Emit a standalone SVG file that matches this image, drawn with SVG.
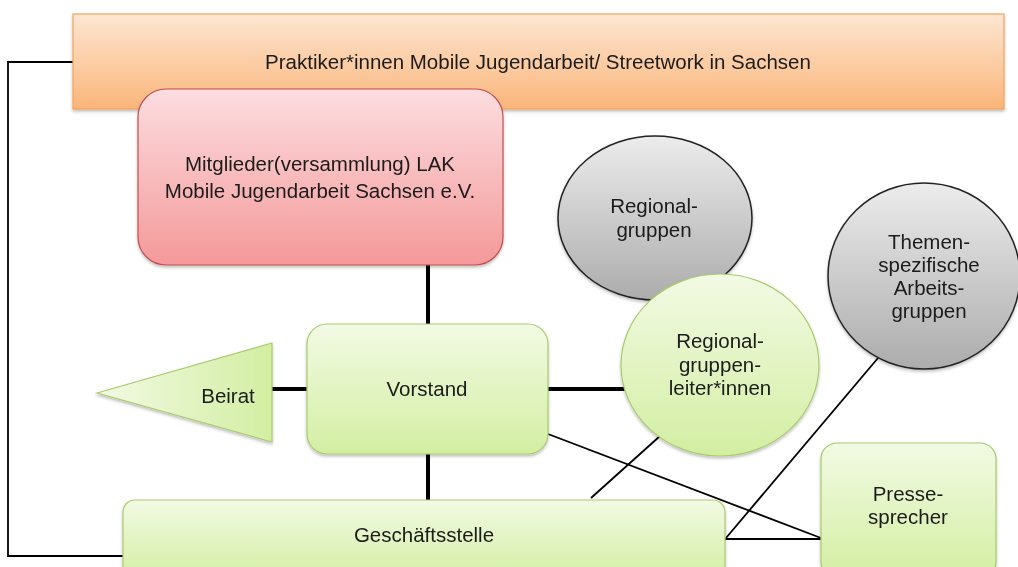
<svg xmlns="http://www.w3.org/2000/svg" width="1018" height="567" viewBox="0 0 1018 567">
<defs>
<linearGradient id="gOr" x1="0" y1="0" x2="0" y2="1"><stop offset="0" stop-color="#fde6d2"/><stop offset="1" stop-color="#fab57a"/></linearGradient>
<linearGradient id="gRd" x1="0" y1="0" x2="0" y2="1"><stop offset="0" stop-color="#fcdde0"/><stop offset="1" stop-color="#f49999"/></linearGradient>
<linearGradient id="gGr" x1="0" y1="0" x2="0" y2="1"><stop offset="0" stop-color="#f2fae4"/><stop offset="1" stop-color="#d3eea2"/></linearGradient>
<linearGradient id="gGrH" x1="0" y1="0" x2="1" y2="0"><stop offset="0" stop-color="#f2fae4"/><stop offset="1" stop-color="#d3eea2"/></linearGradient>
<linearGradient id="gGy" x1="0" y1="0" x2="0" y2="1"><stop offset="0" stop-color="#ececec"/><stop offset="1" stop-color="#acacac"/></linearGradient>
<filter id="sh" x="-10%" y="-10%" width="120%" height="130%"><feDropShadow dx="0" dy="2" stdDeviation="1.5" flood-color="#000" flood-opacity="0.25"/></filter>
</defs>
<style>
text{font-family:"Liberation Sans",Arial,sans-serif;font-size:20.5px;fill:#1a1a1a;text-anchor:middle}
.or{fill:url(#gOr);stroke:#f5a35c;stroke-width:1.2}
.rd{fill:url(#gRd);stroke:#c0504d;stroke-width:1.2}
.gr{fill:url(#gGr);stroke:#a9cb6c;stroke-width:1.2}
.gy{fill:url(#gGy);stroke:#222;stroke-width:1.5}
.thin{stroke:#000;stroke-width:1.8;fill:none}
.thick{stroke:#000;stroke-width:4;fill:none}
</style>
<rect width="1018" height="567" fill="#fff"/>
<g id="connectors">
<polyline class="thin" points="74,62 8,62 8,556 124,556"/>
<line class="thick" x1="428" y1="264" x2="428" y2="325"/>
<line class="thick" x1="428" y1="453" x2="428" y2="501"/>
<line class="thick" x1="271" y1="389" x2="308" y2="389"/>
<line class="thick" x1="547" y1="389" x2="627" y2="389"/>
<line class="thin" x1="548" y1="434" x2="821" y2="538"/>
<line class="thin" x1="591" y1="498" x2="660" y2="436"/>
<line class="thin" x1="726" y1="538" x2="878" y2="358"/>
<line class="thin" x1="725" y1="539" x2="821" y2="539"/>
</g>
<g id="praktiker" filter="url(#sh)">
<rect class="or" x="73" y="14" width="931" height="95"/>
<text x="538" y="69">Praktiker*innen Mobile Jugendarbeit/ Streetwork in Sachsen</text>
</g>
<g id="mitglieder" filter="url(#sh)">
<rect class="rd" x="138" y="89" width="365" height="176" rx="28"/>
<text x="320" y="171">Mitglieder(versammlung) LAK</text>
<text x="320" y="198">Mobile Jugendarbeit Sachsen e.V.</text>
</g>
<g id="regionalgruppen" filter="url(#sh)">
<ellipse class="gy" cx="655" cy="218" rx="97" ry="82"/>
<text x="654" y="213">Regional-</text>
<text x="654" y="237">gruppen</text>
</g>
<g id="leiter" filter="url(#sh)">
<ellipse class="gr" cx="720" cy="365" rx="99" ry="91"/>
<text x="720" y="348">Regional-</text>
<text x="720" y="372">gruppen-</text>
<text x="720" y="395">leiter*innen</text>
</g>
<g id="themen" filter="url(#sh)">
<ellipse class="gy" cx="924" cy="276" rx="96" ry="93"/>
<text x="929" y="249">Themen-</text>
<text x="929" y="272">spezifische</text>
<text x="929" y="295">Arbeits-</text>
<text x="929" y="318">gruppen</text>
</g>
<g id="beirat" filter="url(#sh)">
<polygon points="97,393 272,343 272,442" fill="url(#gGrH)" stroke="#a9cb6c" stroke-width="1.2"/>
<text x="228" y="403">Beirat</text>
</g>
<g id="vorstand" filter="url(#sh)">
<rect class="gr" x="307" y="324" width="241" height="130" rx="20"/>
<text x="427" y="396">Vorstand</text>
</g>
<g id="geschaeftsstelle" filter="url(#sh)">
<rect class="gr" x="123" y="500" width="602" height="80" rx="12"/>
<text x="424" y="542">Geschäftsstelle</text>
</g>
<g id="presse" filter="url(#sh)">
<rect class="gr" x="821" y="443" width="175" height="135" rx="16"/>
<text x="908" y="501">Presse-</text>
<text x="908" y="524">sprecher</text>
</g>
</svg>
